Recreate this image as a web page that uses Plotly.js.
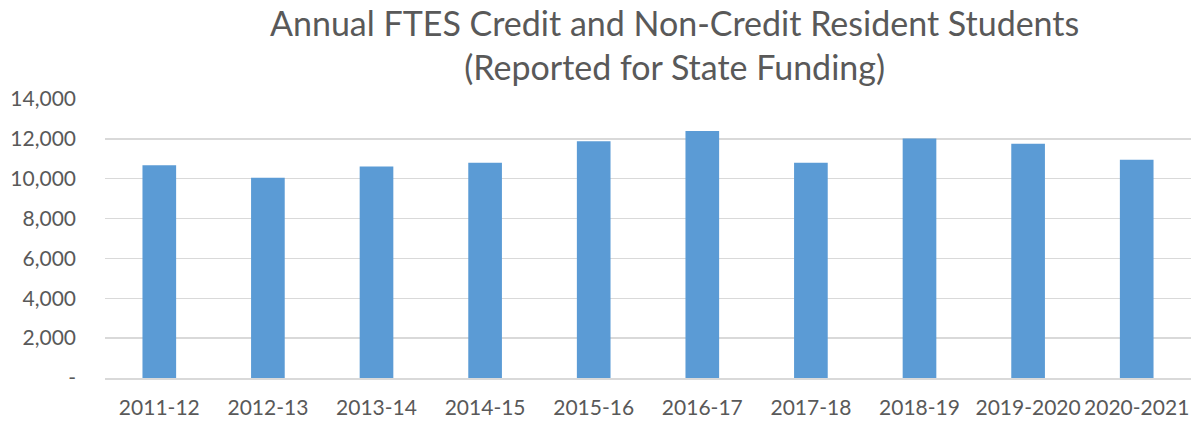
<!DOCTYPE html>
<html>
<head>
<meta charset="utf-8">
<script src="https://cdn.plot.ly/plotly-3.0.1.min.js"></script>
<style>html,body{margin:0;padding:0;background:#fff;}#chart{width:1194px;height:421px;}</style>
</head>
<body>
<div id="chart"></div>
<script>
const categories = ["2011-12","2012-13","2013-14","2014-15","2015-16","2016-17","2017-18","2018-19","2019-2020","2020-2021"];
const ftes = [10670, 10050, 10615, 10800, 11880, 12400, 10800, 12015, 11750, 10950];
const yTickVals = [0, 2000, 4000, 6000, 8000, 10000, 12000, 14000];
const yTickText = ["-", "2,000", "4,000", "6,000", "8,000", "10,000", "12,000", "14,000"];
const titleText = "Annual FTES Credit and Non-Credit Resident Students<br>(Reported for State Funding)";

const font = "Lato, 'Open Sans', sans-serif";
Plotly.newPlot("chart", [{
  type: "bar",
  x: categories,
  y: ftes,
  marker: {color: "#5b9bd5"},
  hoverinfo: "x+y"
}], {
  width: 1194, height: 421,
  margin: {l: 105, r: 3, t: 99, b: 43},
  paper_bgcolor: "#fff", plot_bgcolor: "#fff",
  bargap: 0.69,
  annotations: [{
    text: titleText, showarrow: false,
    xref: "paper", yref: "paper", x: 0.524, y: 1.197, xanchor: "center", yanchor: "middle",
    font: {family: font, size: 34, color: "#595959"}
  }],
  xaxis: {type: "category", tickfont: {family: font, size: 21, color: "#595959"}, showline: true, linecolor: "#d9d9d9", linewidth: 1.5, ticks: "", showgrid: false, ticklabelstandoff: 10},
  yaxis: {range: [0, 14000], tickvals: yTickVals, ticktext: yTickText, tickfont: {family: font, size: 21, color: "#595959"},
          gridcolor: "#d9d9d9", gridwidth: 1.5, zeroline: false, ticks: "", ticklabelstandoff: 28, showline: false},
  showlegend: false
}, {displayModeBar: false, staticPlot: true});
</script>
</body>
</html>
